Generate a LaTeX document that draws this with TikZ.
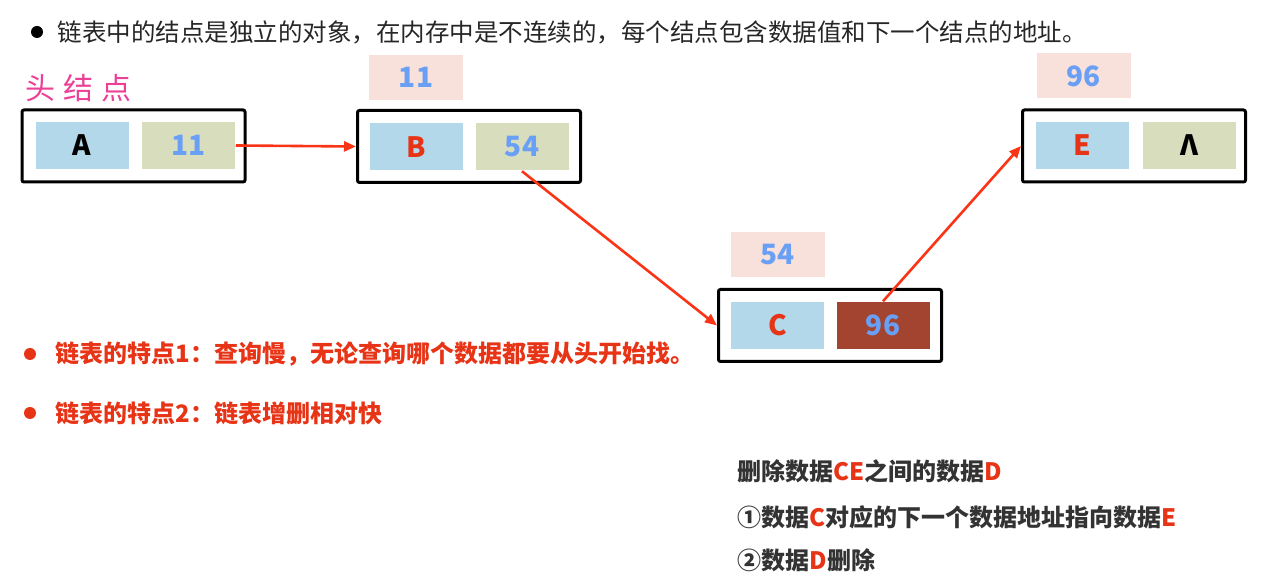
\documentclass[tikz,border=0pt]{standalone}
\usepackage{fontspec}
\setmainfont{Noto Sans CJK SC}
\usetikzlibrary{arrows.meta}

\definecolor{cellblue}{RGB}{178,216,234}
\definecolor{cellolive}{RGB}{216,221,190}
\definecolor{labelpink}{RGB}{248,224,219}
\definecolor{numblue}{RGB}{105,160,245}
\definecolor{linkred}{RGB}{250,52,22}
\definecolor{darkfill}{RGB}{162,68,48}
\definecolor{headpink}{RGB}{236,64,150}
\definecolor{notered}{RGB}{232,52,22}
\definecolor{notegray}{RGB}{51,51,51}

\tikzset{every picture/.style={line width=0.75pt}}
\tikzset{
  nodebox/.style={draw=black, line width=1.5pt, rounded corners=1pt, minimum width=111.5pt, minimum height=36pt, inner sep=0pt},
  datacell/.style={fill=cellblue, minimum width=46.5pt, minimum height=23.5pt, inner sep=0pt, font=\fontsize{14}{14}\selectfont\bfseries},
  nextcell/.style={datacell, fill=cellolive, text=numblue},
  addrlabel/.style={fill=labelpink, minimum width=47pt, minimum height=22.5pt, inner sep=0pt, text=numblue, font=\fontsize{14}{14}\selectfont\bfseries},
  link/.style={draw=linkred, line width=1.3pt, -{Triangle[length=6pt,width=5pt]}},
  notetext/.style={anchor=west, inner sep=0pt, font=\fontsize{12}{12}\selectfont\bfseries},
}

\begin{document}
\begin{tikzpicture}[x=0.5pt,y=0.5pt,yscale=-1,xscale=1]
\useasboundingbox (0,0) rectangle (1282,581);

% Top line
\fill[black] (37,32) circle (6);
\node[anchor=west, inner sep=0pt, font=\fontsize{12.25}{12.25}\selectfont, text=black!85] (intro) at (57,32) {链表中的结点是独立的对象，在内存中是不连续的，每个结点包含数据值和下一个结点的地址。};

% Head label
\node[anchor=west, inner sep=0pt, font=\fontsize{15}{15}\selectfont, text=headpink] (head) at (25,88) {头\hspace{4pt}结\hspace{4pt}点};

%Shape: node A
\node[nodebox] (boxA) at (133.5,146) {};
\node[datacell] (dataA) at (82,145.5) {A};
\node[nextcell] (nextA) at (188.5,145.5) {11};

%Shape: node B
\node[addrlabel] (addrB) at (416,77.5) {11};
\node[nodebox] (boxB) at (469,146.5) {};
\node[datacell, text=notered] (dataB) at (416.5,147) {B};
\node[nextcell] (nextB) at (522,147) {54};

%Shape: node C
\node[addrlabel] (addrC) at (777.5,255) {54};
\node[nodebox] (boxC) at (830,325.5) {};
\node[datacell, text=notered] (dataC) at (777.5,325.5) {C};
\node[nextcell, fill=darkfill] (nextC) at (883,325.5) {96};

%Shape: node E
\node[addrlabel] (addrE) at (1083.5,76) {96};
\node[nodebox] (boxE) at (1134,146) {};
\node[datacell, text=notered] (dataE) at (1082.5,145.5) {E};
\node[nextcell, text=black] (nextE) at (1189,145.5) {Λ};

%Straight Lines
\draw[link] (nextA.east) -- (boxB.west);
\draw[link] (nextB.south) -- (boxC.west);
\draw[link] (nextC.north) -- (boxE.west);

% Red notes
\fill[notered] (30,354) circle (6);
\node[notetext, text=notered] (noteone) at (55,354) {链表的特点1：查询慢，无论查询哪个数据都要从头开始找。};
\fill[notered] (30,413) circle (6);
\node[notetext, text=notered] (notetwo) at (55,413) {链表的特点2：链表增删相对快};

% Delete steps
\node[notetext, text=notegray] (stepzero) at (737,471) {删除数据\textcolor{notered}{CE}之间的数据\textcolor{notered}{D}};
\node[notetext, text=notegray] (stepone) at (737,517) {①数据\textcolor{notered}{C}对应的下一个数据地址指向数据\textcolor{notered}{E}};
\node[notetext, text=notegray] (steptwo) at (737,560) {②数据\textcolor{notered}{D}删除};

\end{tikzpicture}
\end{document}
